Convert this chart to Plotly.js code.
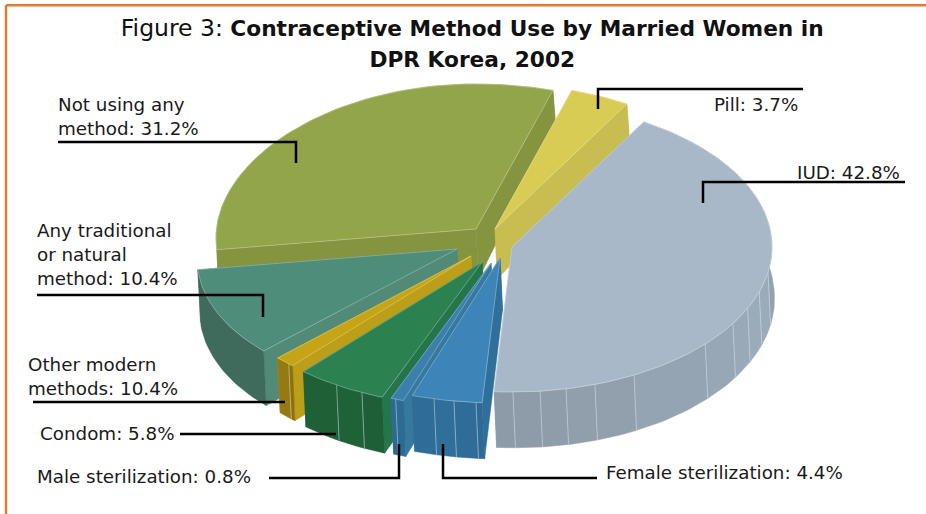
<!DOCTYPE html>
<html>
<head>
<meta charset="utf-8">
<script src="https://cdn.plot.ly/plotly-3.0.1.min.js"></script>
<style>html,body{margin:0;padding:0;background:#fff}#chart{width:926px;height:514px}</style>
</head>
<body>
<div id="chart"></div>
<script>
// Contraceptive method shares, clockwise from the pill slice.
const methods = ["Pill", "IUD", "Female sterilization", "Male sterilization", "Condom", "Other modern methods", "Any traditional or natural method", "Not using any method"];
// The "Other modern" wedge is a thin sliver of about 1.3; its printed caption reads 10.4%.
const shares = [3.7, 42.8, 4.4, 0.8, 5.8, 1.3, 10.4, 31.2];

// Exploded layout: each wedge has its own apex on the page.
const apexX = [495, 512, 500, 491, 482, 471, 457, 476];
const apexY = [229, 247, 258, 263, 262, 256, 249, 229];
const radiusX = 260;
const radiusY = 145;
const firstAngle = 17.2;
// Perspective sag of the rim towards the left side of the pie.
const leftSag = 9;

// Wall height grows towards the viewer (page y -> height).
const wallYs = [90, 102, 229, 250, 400];
const wallHeights = [33, 35, 50, 52, 56];
const wallLean = 2.5;

const topColors = ["#d8cc55", "#a8b8c8", "#3d84b8", "#3a80ab", "#2b8250", "#c5a515", "#4f8d7b", "#93a54a"];
const cutColors = ["#c8bd50", "#9aa9b8", "#2e6f9c", "#37789e", "#25754a", "#bc9e18", "#528a78", "#85943f"];
const wallLight = ["#c8bd50", "#9bacbb", "#306f9c", "#2f6d96", "#206339", "#9a7c12", "#3e6b5c", "#85943f"];
const wallDark = ["#c8bd50", "#8d9aa7", "#2e6a94", "#2c6890", "#1e5e36", "#8a6e0e", "#3c675a", "#85943f"];
const seamAngles = [[], [179.8, 173.8, 168, 161.4, 152, 132, 121.8, 115, 108, 100], [194.7, 190.2, 185.3], [201.5], [214, 207.5], [224.5], [], []];

// Back-to-front drawing order.
const paintOrder = [7, 0, 1, 6, 5, 4, 3, 2];

const captions = [
  {text: "Not using any<br>method: 31.2%", x: 56, y: 116},
  {text: "Pill: 3.7%", x: 712, y: 104},
  {text: "IUD: 42.8%", x: 795, y: 172},
  {text: "Any traditional<br>or natural<br>method: 10.4%", x: 35, y: 254},
  {text: "Other modern<br>methods: 10.4%", x: 26, y: 376},
  {text: "Condom: 5.8%", x: 38, y: 433},
  {text: "Male sterilization: 0.8%", x: 35, y: 476},
  {text: "Female sterilization: 4.4%", x: 604, y: 472}
];
const leaders = [
  [[58, 142], [296, 142], [296, 163]],
  [[598, 109], [598, 89], [803, 89]],
  [[703, 203], [703, 182], [905, 182]],
  [[37, 295], [263, 295], [263, 317]],
  [[33, 402], [285, 402]],
  [[180, 434], [336, 434]],
  [[269, 478], [399, 478], [399, 444]],
  [[443, 444], [443, 478], [597, 478]]
];

const textFont = "DejaVu Sans, sans-serif";

function wallHeight(y) {
  if (y <= wallYs[0]) return wallHeights[0];
  for (let k = 1; k < wallYs.length; k++) {
    if (y <= wallYs[k]) {
      const t = (y - wallYs[k - 1]) / (wallYs[k] - wallYs[k - 1]);
      return wallHeights[k - 1] + t * (wallHeights[k] - wallHeights[k - 1]);
    }
  }
  return wallHeights[wallHeights.length - 1];
}
const rad = d => d * Math.PI / 180;
function rimPoint(i, deg) {
  const dx = radiusX * Math.sin(rad(deg));
  const sag = dx < 0 ? leftSag * Math.pow(dx / radiusX, 2) : 0;
  return [apexX[i] + dx, apexY[i] - radiusY * Math.cos(rad(deg)) + sag];
}
const lowered = p => [p[0] + wallLean, p[1] + wallHeight(p[1])];

function hexMix(a, b, t) {
  const ch = (h, s) => parseInt(h.substr(s, 2), 16);
  const m = s => Math.round(ch(a, s) + (ch(b, s) - ch(a, s)) * t);
  return "rgb(" + m(1) + "," + m(3) + "," + m(5) + ")";
}

function rim(i, from, to) {
  const pts = [];
  const steps = Math.max(2, Math.ceil(Math.abs(to - from) / 1.5));
  for (let k = 0; k <= steps; k++) pts.push(rimPoint(i, from + (to - from) * k / steps));
  return pts;
}

function polygon(pts, color) {
  return {
    type: "scatter", mode: "lines", fill: "toself", fillcolor: color,
    x: pts.map(p => p[0]).concat([pts[0][0]]),
    y: pts.map(p => p[1]).concat([pts[0][1]]),
    line: {color: color, width: 0.5}, hoverinfo: "skip", showlegend: false
  };
}
function stroke(pts, color, width) {
  return {
    type: "scatter", mode: "lines",
    x: pts.map(p => p[0]), y: pts.map(p => p[1]),
    line: {color: color, width: width}, hoverinfo: "skip", showlegend: false
  };
}

const total = shares.reduce((a, b) => a + b, 0);
const startAngle = [];
let running = firstAngle;
shares.forEach(s => { startAngle.push(running); running += 360 * s / total; });

const traces = [];
paintOrder.forEach(i => {
  const a0 = startAngle[i];
  const a1 = a0 + 360 * shares[i] / total;
  const apex = [apexX[i], apexY[i]];

  // Flat cut faces on both straight edges.
  [a0, a1].forEach(a => {
    const rp = rimPoint(i, a);
    traces.push(polygon([apex, rp, lowered(rp), lowered(apex)], cutColors[i]));
  });

  // Curved outer wall, split into facets at the seams.
  const bounds = [a0].concat(seamAngles[i].filter(a => a > a0 && a < a1).sort((p, q) => p - q), [a1]);
  const mid = (a0 + a1) / 2;
  const half = (a1 - a0) / 2;
  for (let k = 0; k < bounds.length - 1; k++) {
    const edge = rim(i, bounds[k], bounds[k + 1]);
    const t = Math.abs((bounds[k] + bounds[k + 1]) / 2 - mid) / half;
    traces.push(polygon(edge.concat(edge.map(lowered).reverse()), hexMix(wallLight[i], wallDark[i], t)));
  }
  seamAngles[i].forEach(a => {
    const rp = rimPoint(i, a);
    traces.push(stroke([rp, lowered(rp)], "rgba(225,230,235,0.6)", 0.8));
  });

  // Top face with its pale outline.
  const arc = rim(i, a0, a1);
  traces.push(polygon([apex].concat(arc), topColors[i]));
  traces.push(stroke([apex].concat(arc, [apex]), "rgba(255,255,255,0.4)", 0.7));
});

const annotations = captions.map(c => ({
  xref: "x", yref: "y", x: c.x, y: c.y, text: c.text, showarrow: false,
  xanchor: "left", yanchor: "middle", align: "left",
  font: {family: textFont, size: 18.3, color: "#1a1a1a"}
}));

const shapes = leaders.map(pts => ({
  type: "path", xref: "x", yref: "y",
  path: pts.map((p, k) => (k ? "L" : "M") + p[0] + "," + p[1]).join(" "),
  line: {color: "#000", width: 2.5}
}));
// Orange frame along the top and left of the page.
shapes.push({type: "line", xref: "paper", yref: "paper", x0: 0.0065, x1: 1, y0: 0.99, y1: 0.99, line: {color: "#d97f3e", width: 2.5}});
shapes.push({type: "line", xref: "paper", yref: "paper", x0: 0.0065, x1: 0.0065, y0: 0, y1: 0.99, line: {color: "#d97f3e", width: 2.5}});

const hiddenAxis = {visible: false, showgrid: false, zeroline: false, fixedrange: true};
const layout = {
  width: 926, height: 514,
  margin: {l: 0, r: 0, t: 0, b: 0},
  paper_bgcolor: "#fff", plot_bgcolor: "#fff",
  showlegend: false,
  title: {
    text: "Figure 3: <b><span style=\"font-size:21.7px\">Contraceptive Method Use by Married Women in</span></b><br><b><span style=\"font-size:21.7px\">DPR Korea, 2002</span></b>",
    font: {family: textFont, size: 23.5, color: "#111"},
    x: 0.51, xanchor: "center", xref: "paper", y: 0.93, yanchor: "middle", yref: "paper"
  },
  xaxis: Object.assign({range: [0, 926]}, hiddenAxis),
  yaxis: Object.assign({range: [514, 0]}, hiddenAxis),
  annotations: annotations,
  shapes: shapes
};

Plotly.newPlot("chart", traces, layout, {displayModeBar: false, staticPlot: true});
</script>
</body>
</html>
